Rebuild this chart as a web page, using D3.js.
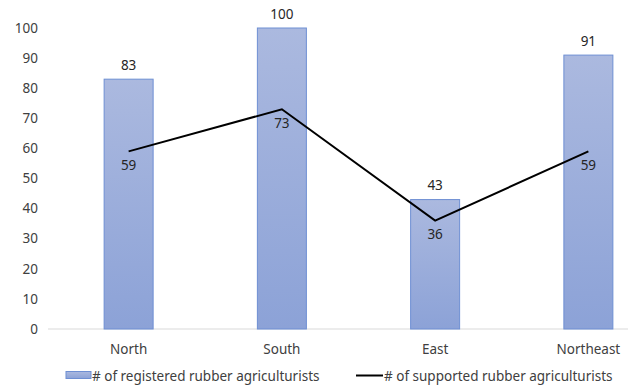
<!DOCTYPE html>
<html>
<head>
<meta charset="utf-8">
<script src="https://cdn.jsdelivr.net/npm/d3@7"></script>
<style>
  html, body { margin: 0; padding: 0; background: #fff; }
  svg { display: block; font-family: "Noto Sans", "Open Sans", sans-serif; }
</style>
</head>
<body>
<svg id="chart" width="628" height="387"></svg>
<script>
const regions = ["North", "South", "East", "Northeast"];
const registered = [83, 100, 43, 91];
const supported = [59, 73, 36, 59];
const yTicks = [0, 10, 20, 30, 40, 50, 60, 70, 80, 90, 100];
const seriesNames = ["# of registered rubber agriculturists", "# of supported rubber agriculturists"];

const FS = 13.5;
const svg = d3.select("#chart");
const defs = svg.append("defs");
const grad = defs.append("linearGradient")
  .attr("id", "barFill").attr("x1", 0).attr("y1", 0).attr("x2", 0).attr("y2", 1);
grad.append("stop").attr("offset", "0%").attr("stop-color", "#abb9df");
grad.append("stop").attr("offset", "100%").attr("stop-color", "#8ca2d7");

const x = d3.scaleBand().domain(regions).range([52, 665]).paddingInner(0.68).paddingOuter(0.34);
const y = d3.scaleLinear().domain([0, 100]).range([329, 28]);

// y-axis labels
svg.append("g").selectAll("text").data(yTicks).join("text")
  .attr("x", 38).attr("y", d => y(d)).attr("dy", "0.35em")
  .attr("text-anchor", "end").attr("font-size", FS).attr("fill", "#404040")
  .text(d => d);

// baseline
svg.append("line").attr("x1", 48).attr("x2", 628).attr("y1", y(0)).attr("y2", y(0))
  .attr("stroke", "#d9d9d9").attr("stroke-width", 1);

// bars
const bw = 49;
svg.append("g").selectAll("rect").data(regions).join("rect")
  .attr("x", d => x(d) + x.bandwidth() / 2 - bw / 2)
  .attr("y", (d, i) => y(registered[i]))
  .attr("width", bw)
  .attr("height", (d, i) => y(0) - y(registered[i]))
  .attr("fill", "url(#barFill)")
  .attr("stroke", "#6e8fd3").attr("stroke-width", 1);

// bar value labels
svg.append("g").selectAll("text").data(regions).join("text")
  .attr("x", d => x(d) + x.bandwidth() / 2)
  .attr("y", (d, i) => y(registered[i]) - 14)
  .attr("dy", "0.35em").attr("text-anchor", "middle")
  .attr("font-size", FS).attr("fill", "#262626")
  .text((d, i) => registered[i]);

// line series
const cx = d => x(d) + x.bandwidth() / 2;
const line = d3.line().x((d, i) => cx(regions[i])).y(d => y(d));
svg.append("path").datum(supported)
  .attr("d", line).attr("fill", "none")
  .attr("stroke", "#000").attr("stroke-width", 2);

svg.append("g").selectAll("text").data(supported).join("text")
  .attr("x", (d, i) => cx(regions[i]))
  .attr("y", d => y(d) + 14)
  .attr("dy", "0.35em").attr("text-anchor", "middle")
  .attr("font-size", FS).attr("fill", "#262626")
  .text(d => d);

// category labels
svg.append("g").selectAll("text").data(regions).join("text")
  .attr("x", d => cx(d)).attr("y", 349)
  .attr("dy", "0.35em").attr("text-anchor", "middle")
  .attr("font-size", FS).attr("fill", "#404040")
  .text(d => d);

// legend
const lg = svg.append("g");
lg.append("rect").attr("x", 66).attr("y", 371.5).attr("width", 25).attr("height", 7)
  .attr("fill", "url(#barFill)").attr("stroke", "#6e8fd3").attr("stroke-width", 1);
lg.append("text").attr("x", 92).attr("y", 376).attr("dy", "0.35em")
  .attr("font-size", FS).attr("fill", "#404040").text(seriesNames[0]);
lg.append("line").attr("x1", 356).attr("x2", 383).attr("y1", 375.5).attr("y2", 375.5)
  .attr("stroke", "#000").attr("stroke-width", 2);
lg.append("text").attr("x", 384).attr("y", 376).attr("dy", "0.35em")
  .attr("font-size", FS).attr("fill", "#404040").text(seriesNames[1]);
</script>
</body>
</html>
